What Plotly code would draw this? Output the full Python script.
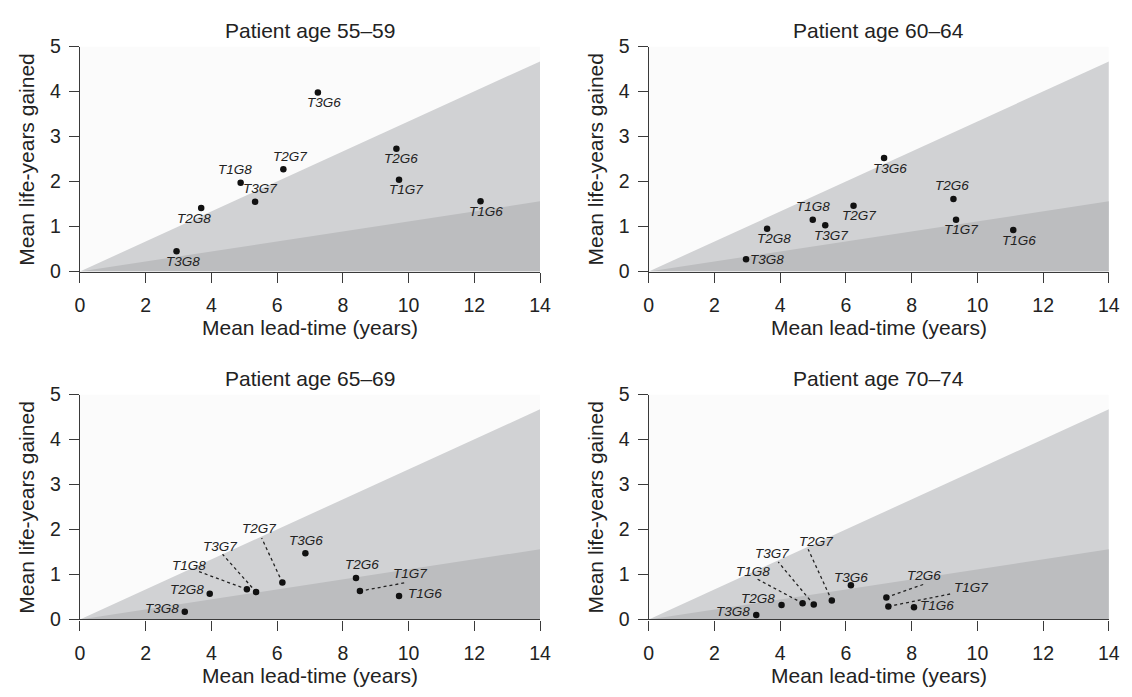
import plotly.graph_objects as go

W, H = 1132, 697

# ---------------- data ----------------
labels = ["T3G6", "T2G6", "T1G7", "T1G6", "T2G7", "T1G8", "T3G7", "T2G8", "T3G8"]

panel_titles = ["Patient age 55–59", "Patient age 60–64", "Patient age 65–69", "Patient age 70–74"]

lead_55 = [7.24, 9.63, 9.71, 12.19, 6.19, 4.89, 5.33, 3.69, 2.94]
gain_55 = [3.98, 2.73, 2.04, 1.56, 2.27, 1.97, 1.55, 1.41, 0.45]

lead_60 = [7.16, 9.27, 9.35, 11.09, 6.23, 4.99, 5.37, 3.60, 2.96]
gain_60 = [2.52, 1.61, 1.15, 0.92, 1.46, 1.15, 1.03, 0.95, 0.27]

lead_65 = [6.86, 8.40, 8.52, 9.71, 6.16, 5.08, 5.36, 3.95, 3.19]
gain_65 = [1.47, 0.92, 0.63, 0.52, 0.82, 0.67, 0.61, 0.57, 0.17]

lead_70 = [6.15, 7.23, 7.29, 8.07, 5.57, 4.68, 5.02, 4.04, 3.27]
gain_70 = [0.76, 0.49, 0.29, 0.27, 0.42, 0.36, 0.33, 0.32, 0.10]

# shaded zones (boundary lines from origin)
zone_x = [0, 14]
upper_zone_y = [0, 4.67]
lower_zone_y = [0, 1.56]

x_ticks = [0, 2, 4, 6, 8, 10, 12, 14]
y_ticks = [0, 1, 2, 3, 4, 5]

# ---------------- layout geometry (pixels) ----------------
X_LEFT = (76, 542.7)
X_RIGHT = (653, 1119.7)
Y_TOP = (36.7, 269)      # top pixel (y=5), bottom pixel (y=0)
Y_BOT = (396, 628.3)

panels = [
    dict(x=lead_55, y=gain_55, xd=X_LEFT, yd=Y_TOP),
    dict(x=lead_60, y=gain_60, xd=X_RIGHT, yd=Y_TOP),
    dict(x=lead_65, y=gain_65, xd=X_LEFT, yd=Y_BOT),
    dict(x=lead_70, y=gain_70, xd=X_RIGHT, yd=Y_BOT),
]

# label offsets in pixels (dx right, dy down) from the point, per panel
label_offsets = [
    {"T3G6": (6, 10), "T2G6": (5, 10), "T1G7": (7, 10), "T1G6": (5, 10), "T2G7": (7, -13),
     "T1G8": (-6, -13), "T3G7": (5, -13), "T2G8": (-7, 10), "T3G8": (6, 10)},
    {"T3G6": (6, 10), "T2G6": (-1, -14), "T1G7": (5, 10), "T1G6": (6, 10), "T2G7": (5, 10),
     "T1G8": (0, -13), "T3G7": (6, 10), "T2G8": (7, 10), "T3G8": (21, 0)},
    {"T3G6": (1, -13), "T2G6": (6, -13.5), "T1G7": (50, -18), "T1G6": (26, -3), "T2G7": (-23, -54),
     "T3G7": (-36, -46), "T1G8": (-58, -24), "T2G8": (-23, -4), "T3G8": (-23, -3)},
    {"T3G6": (0.5, -8), "T2G6": (38, -22), "T1G7": (83, -19), "T1G6": (23, -2), "T2G7": (-16, -59),
     "T3G7": (-41.5, -51), "T1G8": (-50, -32), "T2G8": (-24, -7), "T3G8": (-23, -3)},
]
# dotted leader-line end offsets in pixels
leader_offsets = [
    {},
    {},
    {"T1G7": (47.5, -9), "T2G7": (-21, -46), "T3G7": (-34, -39), "T1G8": (-50.5, -19)},
    {"T2G6": (40, -14.3), "T1G7": (65, -13.3), "T2G7": (-24, -53), "T3G7": (-36, -44), "T1G8": (-46.5, -25.3)},
]

FONT = "Liberation Sans, Arial, Helvetica, sans-serif"
INK = "#222222"
AXC = "#3a3a3a"
MID = "#d1d2d4"
DARK = "#bcbdbf"
BG = "#fbfbfb"


def px_x(p):
    return p / W


def px_y(p):
    return 1 - p / H


fig = go.Figure()
annotations = []
shapes = []
layout_axes = {}

for i, pnl in enumerate(panels):
    n = "" if i == 0 else str(i + 1)
    xa, ya = "x" + n, "y" + n
    xd, yd = pnl["xd"], pnl["yd"]
    sx = (xd[1] - xd[0]) / 14.0     # px per unit
    sy = (yd[1] - yd[0]) / 5.0

    # background plate
    shapes.append(dict(type="rect", xref=xa, yref=ya, x0=0, x1=14, y0=0, y1=5,
                       fillcolor=BG, line=dict(width=0), layer="below"))

    fig.add_trace(go.Scatter(x=zone_x + [zone_x[1]], y=upper_zone_y + [0], xaxis=xa, yaxis=ya,
                             mode="lines", fill="toself", fillcolor=MID, line=dict(width=0),
                             hoverinfo="skip", showlegend=False))
    fig.add_trace(go.Scatter(x=zone_x + [zone_x[1]], y=lower_zone_y + [0], xaxis=xa, yaxis=ya,
                             mode="lines", fill="toself", fillcolor=DARK, line=dict(width=0),
                             hoverinfo="skip", showlegend=False))

    # leader lines
    for lab, (dx, dy) in leader_offsets[i].items():
        k = labels.index(lab)
        x0, y0 = pnl["x"][k], pnl["y"][k]
        fig.add_trace(go.Scatter(x=[x0, x0 + dx / sx], y=[y0, y0 - dy / sy], xaxis=xa, yaxis=ya,
                                 mode="lines", line=dict(color="#222222", width=1.3, dash="dot"),
                                 hoverinfo="skip", showlegend=False))

    fig.add_trace(go.Scatter(x=pnl["x"], y=pnl["y"], xaxis=xa, yaxis=ya, mode="markers",
                             marker=dict(color="#111111", size=6.5), text=labels,
                             hoverinfo="text+x+y", showlegend=False))

    for k, lab in enumerate(labels):
        dx, dy = label_offsets[i][lab]
        annotations.append(dict(x=pnl["x"][k], y=pnl["y"][k], xref=xa, yref=ya,
                                text="<i>" + lab + "</i>", showarrow=False,
                                xshift=dx, yshift=-dy,
                                font=dict(family=FONT, size=13.5, color=INK)))

    axis_common = dict(showline=True, linecolor=AXC, linewidth=1.3, ticks="outside", ticklen=10,
                       tickwidth=1.3, tickcolor=AXC, showgrid=False, zeroline=False,
                       tickfont=dict(family=FONT, size=19.5, color=INK), fixedrange=True)
    layout_axes["xaxis" + n] = dict(axis_common, domain=[px_x(xd[0]), px_x(xd[1])], range=[0, 14],
                                    tickvals=x_ticks, anchor=ya, ticklabelstandoff=6)
    layout_axes["yaxis" + n] = dict(axis_common, domain=[px_y(yd[1]), px_y(yd[0])], range=[0, 5],
                                    tickvals=y_ticks, anchor=xa, ticklabelstandoff=4)

    cx = (xd[0] + xd[1]) / 2
    annotations.append(dict(x=px_x(cx), y=px_y(yd[0] - 17), xref="paper", yref="paper",
                            text=panel_titles[i], showarrow=False, xanchor="center", yanchor="middle",
                            font=dict(family=FONT, size=21, color=INK)))
    annotations.append(dict(x=px_x(cx), y=px_y(yd[1] + 58), xref="paper", yref="paper",
                            text="Mean lead-time (years)", showarrow=False, xanchor="center",
                            yanchor="middle", font=dict(family=FONT, size=21, color=INK)))
    annotations.append(dict(x=px_x(xd[0] - 54), y=px_y((yd[0] + yd[1]) / 2 + 1), xref="paper",
                            yref="paper", text="Mean life-years gained", showarrow=False,
                            textangle=-90, xanchor="center", yanchor="middle",
                            font=dict(family=FONT, size=21, color=INK)))

fig.update_layout(width=W, height=H, margin=dict(l=0, r=0, t=0, b=0),
                  paper_bgcolor="white", plot_bgcolor="white",
                  annotations=annotations, shapes=shapes, showlegend=False,
                  font=dict(family=FONT, color=INK), **layout_axes)

fig.write_html("out.html", config={"displayModeBar": False},
               post_script="document.body.style.margin='0px';document.body.style.overflow='hidden';")
